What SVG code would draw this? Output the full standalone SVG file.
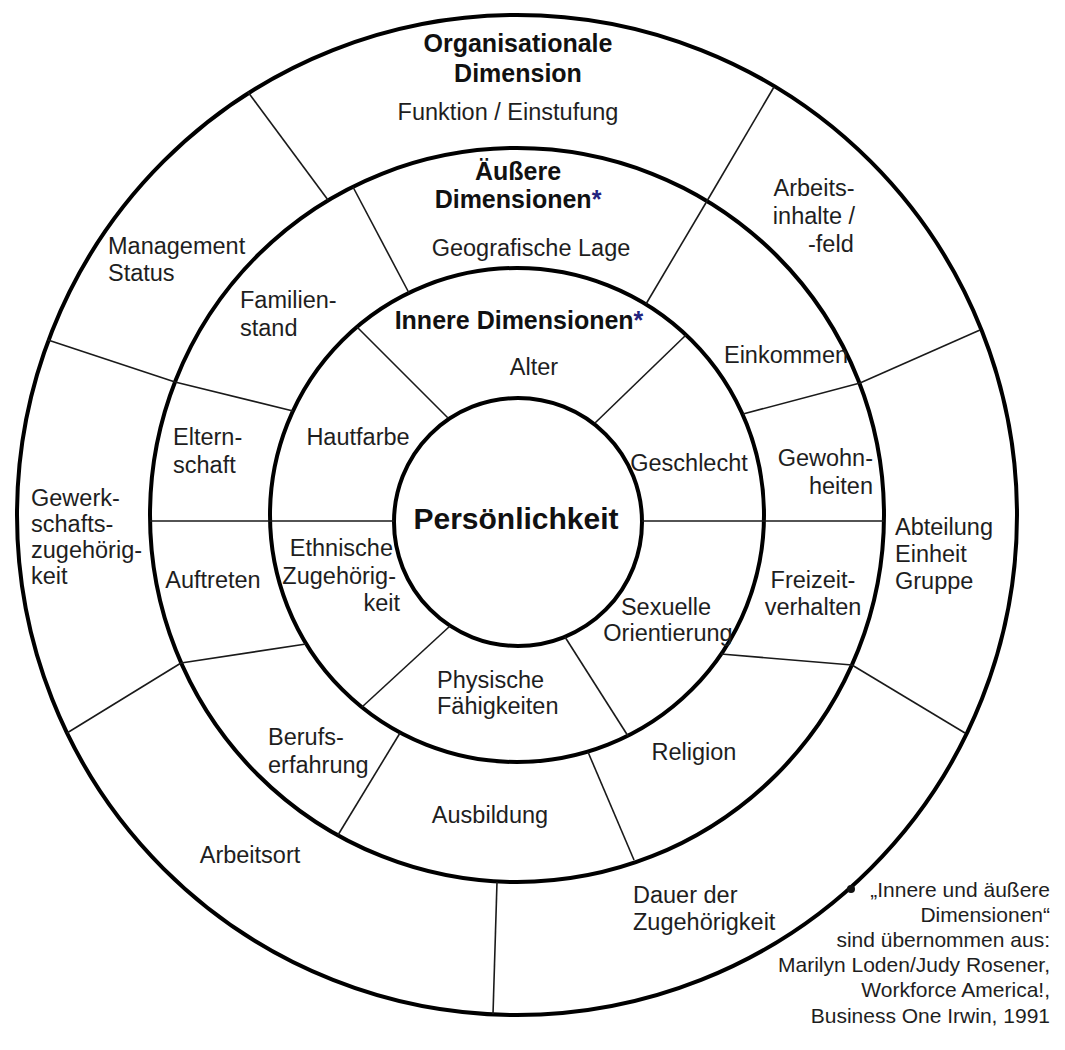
<svg xmlns="http://www.w3.org/2000/svg" width="1065" height="1050" viewBox="0 0 1065 1050">
  <style>
    .ring { fill: none; stroke: #000; stroke-width: 4; }
    .div { stroke: #1a1a1a; stroke-width: 1.6; fill: none; }
    text { font-family: "Liberation Sans", Arial, sans-serif; fill: #1e1e1e; }
    .lbl { font-size: 23.5px; }
    .head { font-size: 25px; font-weight: bold; fill: #111; }
    .core { font-size: 30px; font-weight: bold; fill: #111; }
    .note { font-size: 21px; }
    .star { fill: #23237e; }
    .mid { text-anchor: middle; }
    .end { text-anchor: end; }
  </style>
  <rect width="1065" height="1050" fill="#fff"/>

  <!-- concentric rings -->
  <g id="rings">
    <circle id="ring-organisational" class="ring" cx="517" cy="515" r="500"/>
    <circle id="ring-outer" class="ring" cx="517" cy="515" r="367"/>
    <circle id="ring-inner" class="ring" cx="517" cy="515" r="247"/>
    <circle id="ring-core" class="ring" cx="518" cy="522" r="124"/>
  </g>

  <!-- sector dividers -->
  <g id="connectors">
    <!-- organisational ring -->
    <line class="div" x1="248" y1="92" x2="328" y2="200"/>
    <line class="div" x1="774" y1="87" x2="707" y2="201"/>
    <line class="div" x1="48" y1="340" x2="175" y2="382"/>
    <line class="div" x1="980" y1="330" x2="860" y2="383"/>
    <line class="div" x1="67" y1="733" x2="181" y2="663"/>
    <line class="div" x1="965" y1="733" x2="852" y2="665"/>
    <line class="div" x1="497" y1="882" x2="493" y2="1014"/>
    <!-- outer dimensions ring -->
    <line class="div" x1="353" y1="187" x2="409" y2="293"/>
    <line class="div" x1="707" y1="201" x2="646" y2="304"/>
    <line class="div" x1="175" y1="382" x2="293" y2="411"/>
    <line class="div" x1="860" y1="383" x2="743" y2="414"/>
    <line class="div" x1="150" y1="521" x2="394" y2="521"/>
    <line class="div" x1="642" y1="521" x2="884" y2="521"/>
    <line class="div" x1="181" y1="663" x2="306" y2="644"/>
    <line class="div" x1="852" y1="665" x2="721" y2="654"/>
    <line class="div" x1="400" y1="733" x2="338" y2="835"/>
    <line class="div" x1="588" y1="752" x2="634" y2="860"/>
    <!-- inner dimensions ring -->
    <line class="div" x1="357" y1="327" x2="448" y2="418"/>
    <line class="div" x1="595" y1="423" x2="686" y2="335"/>
    <line class="div" x1="450" y1="626" x2="362" y2="707"/>
    <line class="div" x1="565" y1="637" x2="628" y2="736"/>
  </g>

  <!-- organisational dimension -->
  <g id="title-organisational">
    <text class="head mid" x="518" y="52">Organisationale</text>
    <text class="head mid" x="518" y="82">Dimension</text>
  </g>
  <g id="n-funktion"><text class="lbl mid" x="508" y="120">Funktion / Einstufung</text></g>
  <g id="n-arbeitsinhalte">
    <text class="lbl mid" x="814" y="196">Arbeits-</text>
    <text class="lbl mid" x="814" y="224">inhalte /</text>
    <text class="lbl" x="808" y="252">-feld</text>
  </g>
  <g id="n-management">
    <text class="lbl" x="108" y="254">Management</text>
    <text class="lbl" x="108" y="281">Status</text>
  </g>
  <g id="n-gewerkschaft">
    <text class="lbl" x="31" y="506">Gewerk-</text>
    <text class="lbl" x="31" y="532">schafts-</text>
    <text class="lbl" x="31" y="558">zugehörig-</text>
    <text class="lbl" x="31" y="584">keit</text>
  </g>
  <g id="n-abteilung">
    <text class="lbl" x="895" y="535">Abteilung</text>
    <text class="lbl" x="895" y="562">Einheit</text>
    <text class="lbl" x="895" y="589">Gruppe</text>
  </g>
  <g id="n-arbeitsort"><text class="lbl mid" x="250" y="863">Arbeitsort</text></g>
  <g id="n-dauer">
    <text class="lbl" x="633" y="903">Dauer der</text>
    <text class="lbl" x="633" y="930">Zugehörigkeit</text>
  </g>

  <!-- outer dimensions -->
  <g id="title-outer">
    <text class="head mid" x="518" y="180">Äußere</text>
    <text class="head mid" x="518" y="208">Dimensionen<tspan class="star">*</tspan></text>
  </g>
  <g id="n-geografie"><text class="lbl mid" x="531" y="256">Geografische Lage</text></g>
  <g id="n-einkommen"><text class="lbl mid" x="786" y="363">Einkommen</text></g>
  <g id="n-gewohnheiten">
    <text class="lbl end" x="873" y="466">Gewohn-</text>
    <text class="lbl end" x="873" y="494">heiten</text>
  </g>
  <g id="n-freizeit">
    <text class="lbl mid" x="813" y="588">Freizeit-</text>
    <text class="lbl mid" x="813" y="615">verhalten</text>
  </g>
  <g id="n-religion"><text class="lbl mid" x="694" y="760">Religion</text></g>
  <g id="n-ausbildung"><text class="lbl mid" x="490" y="823">Ausbildung</text></g>
  <g id="n-berufserfahrung">
    <text class="lbl" x="268" y="745">Berufs-</text>
    <text class="lbl" x="268" y="773">erfahrung</text>
  </g>
  <g id="n-auftreten"><text class="lbl mid" x="213" y="588">Auftreten</text></g>
  <g id="n-elternschaft">
    <text class="lbl" x="173" y="445">Eltern-</text>
    <text class="lbl" x="173" y="473">schaft</text>
  </g>
  <g id="n-familienstand">
    <text class="lbl" x="240" y="308">Familien-</text>
    <text class="lbl" x="240" y="336">stand</text>
  </g>

  <!-- inner dimensions -->
  <g id="title-inner">
    <text class="head mid" x="519" y="329">Innere Dimensionen<tspan class="star">*</tspan></text>
  </g>
  <g id="n-alter"><text class="lbl mid" x="534" y="375">Alter</text></g>
  <g id="n-geschlecht"><text class="lbl mid" x="689" y="471">Geschlecht</text></g>
  <g id="n-sexuelle">
    <text class="lbl mid" x="666" y="615">Sexuelle</text>
    <text class="lbl mid" x="668" y="641">Orientierung</text>
  </g>
  <g id="n-physische">
    <text class="lbl" x="437" y="688">Physische</text>
    <text class="lbl" x="437" y="714">Fähigkeiten</text>
  </g>
  <g id="n-ethnische">
    <text class="lbl end" x="393" y="556">Ethnische</text>
    <text class="lbl end" x="396" y="584">Zugehörig-</text>
    <text class="lbl end" x="400" y="611">keit</text>
  </g>
  <g id="n-hautfarbe"><text class="lbl mid" x="358" y="445">Hautfarbe</text></g>

  <!-- core -->
  <g id="n-persoenlichkeit"><text class="core mid" x="516" y="529">Persönlichkeit</text></g>

  <!-- source note -->
  <g id="note">
    <circle cx="851" cy="889" r="4" fill="#111"/>
    <text class="note end" x="1050" y="897">„Innere und äußere</text>
    <text class="note end" x="1050" y="922">Dimensionen“</text>
    <text class="note end" x="1050" y="947">sind übernommen aus:</text>
    <text class="note end" x="1050" y="972">Marilyn Loden/Judy Rosener,</text>
    <text class="note end" x="1050" y="997">Workforce America!,</text>
    <text class="note end" x="1050" y="1023">Business One Irwin, 1991</text>
  </g>
</svg>
